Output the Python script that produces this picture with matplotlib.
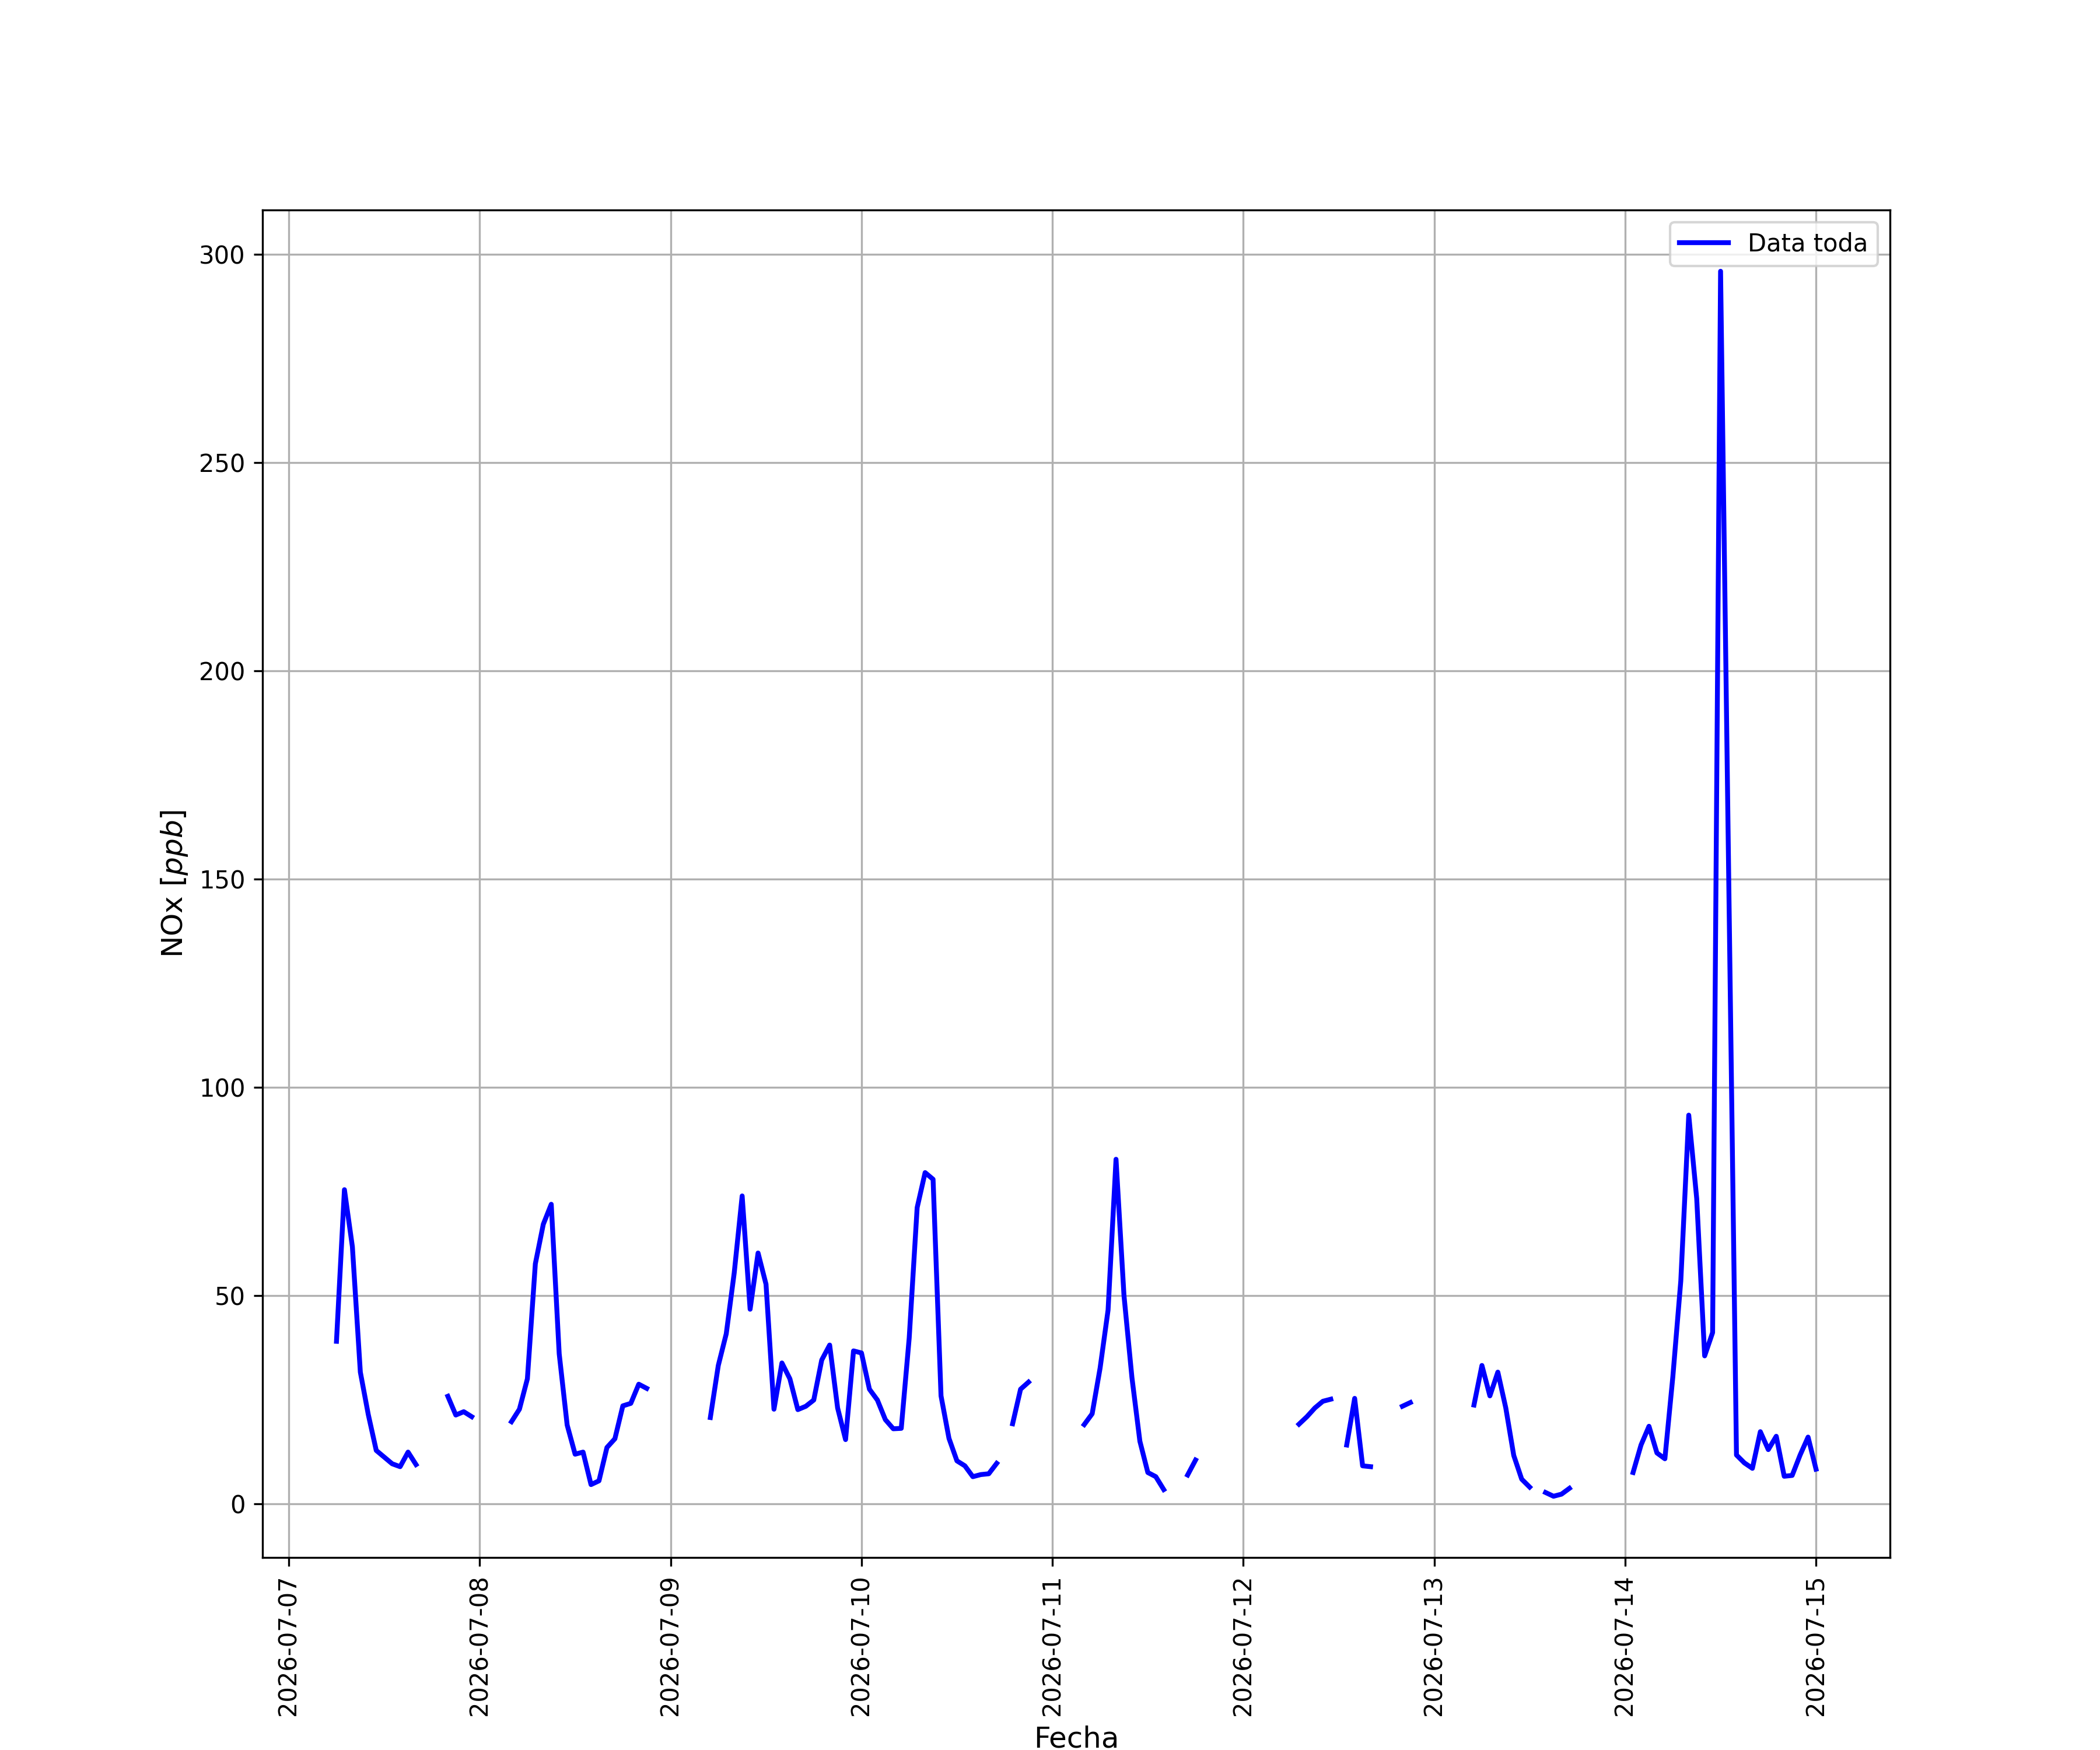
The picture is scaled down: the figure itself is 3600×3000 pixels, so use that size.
import numpy as np
import pandas as pd
import matplotlib
matplotlib.use("Agg")
import matplotlib.pyplot as plt

nan = np.nan

# hourly NOx values, one list per day (first day starts at 06:00)
nox_0707 = [39.0, 75.4, 61.7, 31.6, 21.4, 12.8, 11.2, 9.6, 8.9, 12.4, 9.4,
            nan, nan, nan, 25.8, 21.3, 22.1, 20.9]
nox_0708 = [nan, nan, nan, nan, 19.7, 22.7, 30.0, 57.6, 67.1, 71.9, 36.0, 18.9,
            11.9, 12.4, 4.6, 5.5, 13.5, 15.6, 23.5, 24.1, 28.7, 27.7, nan, nan]
nox_0709 = [nan, nan, nan, nan, nan, 20.7, 33.2, 40.8, 55.4, 73.9, 46.7, 60.2,
            52.7, 22.7, 33.8, 30.0, 22.6, 23.4, 24.9, 34.5, 38.1, 23.0, 15.4, 36.7]
nox_0710 = [36.2, 27.5, 24.9, 20.2, 18.0, 18.1, 39.8, 71.1, 79.5, 77.9, 25.9, 15.7,
            10.3, 9.1, 6.5, 7.0, 7.2, 9.7, nan, 19.2, 27.5, 29.2, nan, nan]
nox_0711 = [nan, nan, nan, nan, 19.0, 21.6, 32.6, 46.5, 82.7, 50.0, 30.3, 15.0,
            7.5, 6.5, 3.4, nan, nan, 6.9, 10.5, nan, nan, nan, nan, nan]
nox_0712 = [nan, nan, nan, nan, nan, nan, nan, 19.1, 20.9, 23.0, 24.6, 25.1,
            nan, 14.1, 25.3, 9.1, 8.9, nan, nan, nan, 23.4, 24.3, nan, nan]
nox_0713 = [nan, nan, nan, nan, nan, 23.7, 33.2, 25.9, 31.6, 23.0, 11.6, 5.9,
            4.0, nan, 2.7, 1.8, 2.3, 3.7, nan, nan, nan, nan, nan, nan]
nox_0714 = [nan, 7.5, 14.1, 18.6, 12.2, 10.8, 30.5, 53.5, 93.3, 73.3, 35.5, 41.1,
            295.9, 154.0, 11.7, 9.8, 8.5, 17.3, 13.0, 16.2, 6.6, 6.8, 11.7, 16.0]
nox_0715 = [8.3]

valores = (nox_0707 + nox_0708 + nox_0709 + nox_0710 + nox_0711 +
           nox_0712 + nox_0713 + nox_0714 + nox_0715)
fechas = pd.date_range("2026-07-07 06:00", periods=len(valores), freq="h")

fig, ax = plt.subplots(figsize=(12, 10))
ax.plot(fechas, valores, color="blue", linewidth=2, label="Data toda")
ax.set_xlabel("Fecha", fontsize=12)
ax.set_ylabel("NOx [$ppb$]", fontsize=12)
ax.grid(True)
ax.legend(loc="upper right")
plt.xticks(rotation=90)
fig.savefig("out.png", dpi=300)
